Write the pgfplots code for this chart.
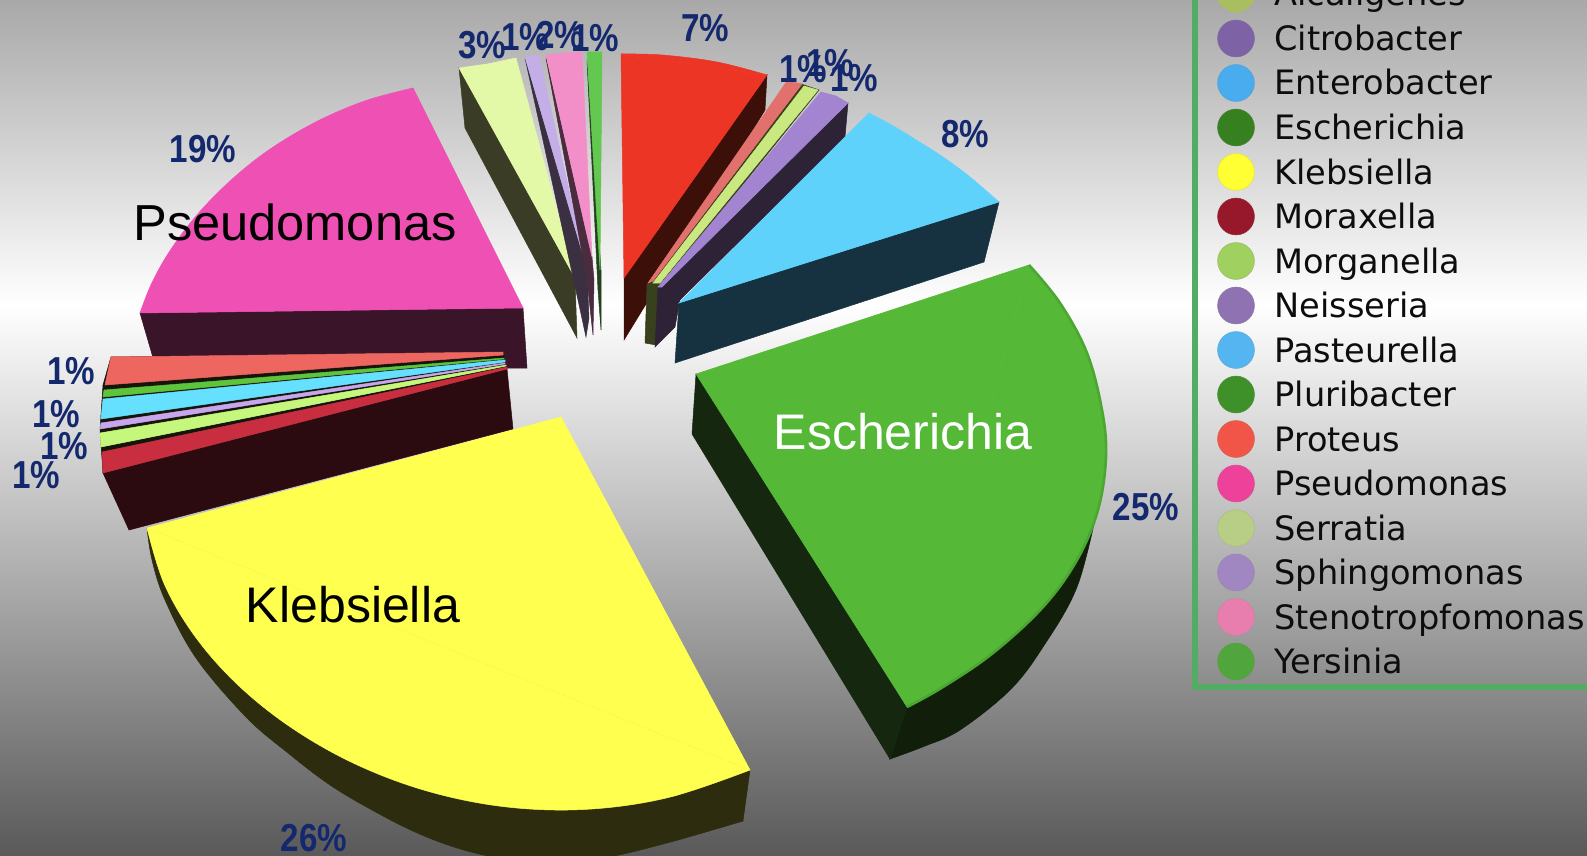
\documentclass[border=0pt]{standalone}
\usepackage{fontspec}
\usepackage{graphicx}
\usepackage{pgfplots}
\pgfplotsset{compat=1.18}
\setmainfont{Liberation Sans}
\newfontfamily\legfont{DejaVu Sans}
\definecolor{navy}{HTML}{14286E}
\definecolor{frame}{HTML}{52AD62}
\newcommand{\poly}[2]{\xglobal\definecolor{c#1}{HTML}{#1}\addplot[fill=c#1,draw=c#1,line width=0.25pt] coordinates {#2} --cycle;}
\newcommand{\arcf}[2]{\xglobal\definecolor{c#1}{HTML}{#1}\addplot[fill=c#1,draw=c#1,line width=0.25pt,smooth,tension=0.6] coordinates {#2};}
\newcommand{\arcl}[3]{\xglobal\definecolor{c#1}{HTML}{#1}\addplot[draw=c#1,line width=#2,smooth,tension=0.6] coordinates {#3};}
\newcommand{\pct}[3]{\node[text=navy,inner sep=0pt,font=\fontsize{19.5}{20}\selectfont\bfseries] at (axis cs:#1,#2) {\scalebox{0.85}[1]{#3\%}};}
\newcommand{\legt}[2]{\node[anchor=base west,yshift=-6pt,inner sep=0pt,text=black!95,font=\legfont\fontsize{16.8}{18}\selectfont] at (axis cs:1274,#1) {#2};}
\newcommand{\leg}[3]{\xglobal\definecolor{c#1}{HTML}{#1}\addplot[only marks,mark=*,mark size=9.2pt,mark options={fill=c#1,draw=c#1!80!gray,line width=0.3pt}] coordinates {(1236,#2)};
\legt{#2}{#3}}
\begin{document}
\begin{tikzpicture}
\begin{axis}[scale only axis,width=793.5pt,height=428pt,xmin=0,xmax=1587,ymin=0,ymax=856,y dir=reverse,hide axis,clip=true]
% background
\addplot[draw=none,top color=black!34,bottom color=white] coordinates {(0,0)(1587,0)(1587,305)(0,305)};
\addplot[draw=none,top color=white,bottom color=black!65] coordinates {(0,304)(1587,304)(1587,856)(0,856)};
% Pseudomonas
\poly{3A1428}{(140,313)(523,308)(527,368)(156,368)}
\poly{EE50B4}{(140,313)(523,308)(413,88)}
\arcf{EE50B4}{(140,313)(149.8,287.4)(163.8,260.6)(182.1,233.5)(204.3,206.6)(230.4,180.7)(260.1,156.2)(293.6,134.2)(330.2,115)(370.1,99.2)(413,88)}
% cluster
\poly{2C0B10}{(103,473)(507,369)(513,429)(129,530)}
\poly{15150C}{(111,357)(503,352)(507,369)(103,473)(100,430)(103,385)}
\poly{EE6660}{(111,357)(503,352)(503,355)(105,385)}
\poly{5EC43C}{(104,390)(504,358)(504,359)(103,397)}
\poly{66E0FF}{(103,399)(505,360)(505,362)(101,419)}
\poly{C7A6EC}{(101,423)(505,363)(505,364)(100,429)}
\poly{C4F77C}{(100,433)(506,365)(506,366)(101,447)}
\poly{C92E40}{(102,452)(507,367)(507,369)(103,473)}
% Klebsiella
\arcf{2E2C0E}{(147,528)(152,560)(165,600)(196,658)(246,717)(288,753)(330,785)(372,810)(415,832)(457,848)(499,858)(550,864)(604,858)(667,843)(743,821)}
\poly{2E2C0E}{(147,528)(743,821)(750,770)}
\poly{FFFF50}{(147,528)(561,417)(750,770)}
\arcf{FFFF50}{(147,528)(164.6,584.7)(196.5,638.4)(240.8,687.6)(295.8,730.6)(359.6,766)(430.6,792)(507,807)(586.8,809.3)(668.4,797.5)(750,770)}
% Escherichia
\arcf{101E0A}{(890,759)(925,746)(960,730)(1010,690)(1043,647)(1077,587)(1097,510)}
\poly{101E0A}{(890,759)(1097,510)(907,707)}
\poly{15280F}{(696,374)(692,434)(890,759)(907,707)}
\poly{55B836}{(696,374)(1029,265)(907,707)}
\arcf{55B836}{(1029,265)(1060,303)(1087,353)(1102,410)(1106,457)(1098,510)(1077,560)(1043,607)(993,653)(943,687)(907,707)}
\arcl{4CA632}{1.3pt}{(1029,265)(1060,303)(1087,353)(1102,410)(1106,457)(1098,510)(1077,560)(1043,607)(993,653)(943,687)(907,707)}
% Red (7%)
\poly{3C0F08}{(767,75)(765,110)(624,340)(624,278)}
\poly{EC3525}{(621,54)(767,75)(624,278)}
\arcf{EC3525}{(621,54)(662,55)(717,62)(767,75)}
% thin slices
\poly{38401E}{(647,285)(801,84)(819,90)(658,290)(656,345)(645,343)}
\poly{E2706C}{(648,283)(787,81)(802,84)(653,281)}
\poly{C9E87F}{(653,283)(804,86)(818,90)(660,283)}
% Purple
\poly{2E2236}{(658,287)(848,103)(845,137)(680,300)(675,327)(655,347)}
\poly{A284D0}{(658,287)(821,92)(836,96)(848,103)(662,287)}
% Blue
\poly{16313F}{(679,303)(999,202)(984,262)(675,363)}
\poly{5FD2FB}{(679,303)(869,113)(999,202)}
\arcf{5FD2FB}{(869,113)(895,127)(921,143)(943,157)(965,173)(983,188)(999,202)}
% Pale green, lavender, pink, green
\poly{3A3C26}{(459,68)(465,128)(577,338)(575,278)}
\poly{E3F9A8}{(459,68)(487,64)(516,58)(575,278)}
\poly{3A3042}{(525,58)(578,300)(586,337)(589,318)(587,270)(585,262)}
\poly{C4AEE8}{(525,57)(539,55)(585,262)}
\poly{4B2B3E}{(546,58)(587,280)(593,335)(594,280)(592,257)}
\poly{F28FC8}{(546,55)(564,53)(582,52)(592,257)}
\poly{25401F}{(587,60)(598,290)(601,330)(601,270)}
\poly{62C84F}{(587,52)(602,52)(600,270)}
% legend frame
\addplot[draw=frame,line width=3pt] coordinates {(1195,-5)(1195,687)(1595,687)};
\arcf{A9BF5F}{(1216,-8)(1221,5)(1236,12.5)(1251,5)(1256,-8)}
\legt{-6}{Alcaligenes}
\leg{7E62A6}{38.5}{Citrobacter}
\leg{48ACEF}{83}{Enterobacter}
\leg{36801F}{127.5}{Escherichia}
\leg{FFFF33}{172}{Klebsiella}
\leg{96182A}{216.5}{Moraxella}
\leg{A0D060}{261}{Morganella}
\leg{8F72B2}{305.5}{Neisseria}
\leg{55B5F0}{350}{Pasteurella}
\leg{3E9128}{394.5}{Pluribacter}
\leg{F05548}{439}{Proteus}
\leg{EE4199}{483.5}{Pseudomonas}
\leg{B8CD85}{528}{Serratia}
\leg{A187C2}{572.5}{Sphingomonas}
\leg{E87EAE}{617}{Stenotropfomonas}
\leg{50A63C}{661.5}{Yersinia}
% percentages
\pct{203}{149}{19}
\pct{482}{45}{3}
\pct{525}{37}{1}
\pct{560}{35}{2}
\pct{595}{38}{1}
\pct{705}{28}{7}
\pct{803}{69}{1}
\pct{830}{63}{1}
\pct{854}{78}{1}
\pct{965}{134}{8}
\pct{1146}{507}{25}
\pct{314}{838}{26}
\pct{71}{371}{1}
\pct{56}{414}{1}
\pct{64}{446}{1}
\pct{36}{475}{1}
% names
\node[inner sep=0pt,font=\fontsize{25.3}{28}\selectfont,text=black] at (axis cs:295,222) {Pseudomonas};
\node[inner sep=0pt,font=\fontsize{25}{28}\selectfont,text=black] at (axis cs:353,605) {Klebsiella};
\node[inner sep=0pt,font=\fontsize{25}{28}\selectfont,text=white] at (axis cs:903,432) {Escherichia};
\end{axis}
\end{tikzpicture}
\end{document}
